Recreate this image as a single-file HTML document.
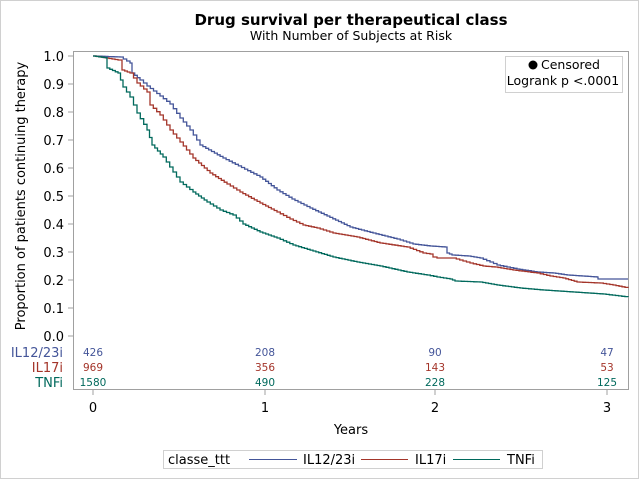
<!DOCTYPE html>
<html><head><meta charset="utf-8"><style>
body{margin:0;background:#fff}
svg{display:block;font-family:"DejaVu Sans","Liberation Sans",sans-serif}
</style></head><body>
<svg id="s" width="640" height="480" xmlns="http://www.w3.org/2000/svg">
<rect x="0.5" y="0.5" width="638" height="478" fill="#fff" stroke="#d0d0d0"/>
<text x="351" y="25" text-anchor="middle" font-size="15" font-weight="bold">Drug survival per therapeutical class</text>
<text x="351" y="40" text-anchor="middle" font-size="12.5">With Number of Subjects at Risk</text>
<rect x="73.5" y="51.5" width="555" height="338" fill="none" stroke="#a0a0a0"/>
<g font-size="13" text-anchor="end" fill="#000">
<text x="64" y="61">1.0</text><text x="64" y="89">0.9</text><text x="64" y="117">0.8</text><text x="64" y="145">0.7</text><text x="64" y="173">0.6</text><text x="64" y="201">0.5</text><text x="64" y="229">0.4</text><text x="64" y="257">0.3</text><text x="64" y="285">0.2</text><text x="64" y="313">0.1</text><text x="64" y="341">0.0</text>
</g>
<g stroke="#a0a0a0"><path d="M68 56H73M68 84H73M68 112H73M68 140H73M68 168H73M68 196H73M68 224H73M68 252H73M68 280H73M68 308H73M68 336H73M93 390V395M265 390V395M435 390V395M607 390V395"/></g>
<text transform="translate(25,196) rotate(-90)" text-anchor="middle" font-size="13">Proportion of patients continuing therapy</text>
<g font-size="13" text-anchor="end">
<text x="63" y="357" fill="#445599">IL12/23i</text>
<text x="63" y="372" fill="#a4352a">IL17i</text>
<text x="63" y="387" fill="#00695c">TNFi</text>
</g>
<g font-size="10.5" text-anchor="middle">
<g fill="#445599"><text x="93" y="356">426</text><text x="265" y="356">208</text><text x="435" y="356">90</text><text x="607" y="356">47</text></g>
<g fill="#a4352a"><text x="93" y="371">969</text><text x="265" y="371">356</text><text x="435" y="371">143</text><text x="607" y="371">53</text></g>
<g fill="#00695c"><text x="93" y="386">1580</text><text x="265" y="386">490</text><text x="435" y="386">228</text><text x="607" y="386">125</text></g>
</g>
<g font-size="13" text-anchor="middle"><text x="93" y="412">0</text><text x="265" y="412">1</text><text x="435" y="412">2</text><text x="607" y="412">3</text></g>
<text x="351" y="434" text-anchor="middle" font-size="13">Years</text>
<rect x="505.5" y="56.5" width="117" height="36" fill="#fff" stroke="#d0d0d0"/>
<circle cx="533" cy="65" r="4.5" fill="#000"/>
<text x="541" y="69" font-size="12.5">Censored</text>
<text x="563" y="85" text-anchor="middle" font-size="12.5">Logrank p &lt;.0001</text>
<rect x="163.5" y="450.5" width="379" height="18" fill="#fff" stroke="#d0d0d0"/>
<text x="168" y="464" font-size="13">classe_ttt</text>
<path d="M249 459.5H297" stroke="#445599"/><text x="303" y="464" font-size="13">IL12/23i</text>
<path d="M361 459.5H408" stroke="#a4352a"/><text x="415" y="464" font-size="13">IL17i</text>
<path d="M453 459.5H500" stroke="#00695c"/><text x="507" y="464" font-size="13">TNFi</text>
<g id="curves" fill="none" stroke-width="1.3"></g>
</svg>
<script>
var D={
"#445599":[[93,56],[120,57],[130,63],[132,73],[140,80],[147,86],[160,96],[170,104],[180,118],[190,130],[200,145],[223,158],[260,177],[277,190],[292,199],[310,208],[327,216],[350,227],[373,233],[397,239],[413,244],[430,246],[445,247],[447,253],[452,255],[468,256],[480,258],[490,262],[497,265],[507,267],[517,269],[537,272],[553,273],[567,275],[597,277],[598,279],[628,279]],
"#a4352a":[[93,56],[100,57],[118,60],[122,70],[130,73],[137,83],[147,92],[150,105],[160,115],[170,130],[180,142],[193,158],[210,173],[227,184],[240,192],[260,203],[277,212],[290,219],[303,225],[317,228],[333,233],[357,237],[380,243],[407,247],[423,253],[430,254],[433,257],[437,258],[453,258],[463,261],[470,263],[483,266],[495,267],[513,270],[537,273],[550,276],[563,278],[577,282],[600,283],[613,285],[628,288]],
"#00695c":[[93,56],[107,58],[107,68],[118,73],[123,87],[130,97],[137,113],[147,130],[152,145],[163,157],[173,172],[180,182],[193,192],[207,202],[220,210],[233,215],[243,224],[260,232],[277,238],[293,245],[313,251],[333,257],[357,262],[380,266],[407,272],[427,275],[437,277],[450,279],[455,281],[480,282],[497,285],[520,288],[543,290],[573,292],[603,294],[628,297]]};
var g=document.getElementById("curves"),ns="http://www.w3.org/2000/svg";
for(var c in D){var p=D[c],d="M"+p[0][0]+" "+p[0][1];
for(var i=1;i<p.length;i++){var a=p[i-1],b=p[i],n=Math.max(1,Math.round((b[0]-a[0])/3));
for(var k=1;k<=n;k++){var x=a[0]+(b[0]-a[0])*k/n,y=a[1]+(b[1]-a[1])*k/n;d+="H"+x.toFixed(1)+"V"+y.toFixed(1);}}
var e=document.createElementNS(ns,"path");e.setAttribute("d",d);e.setAttribute("stroke",c);g.appendChild(e);}
</script>
</body></html>
